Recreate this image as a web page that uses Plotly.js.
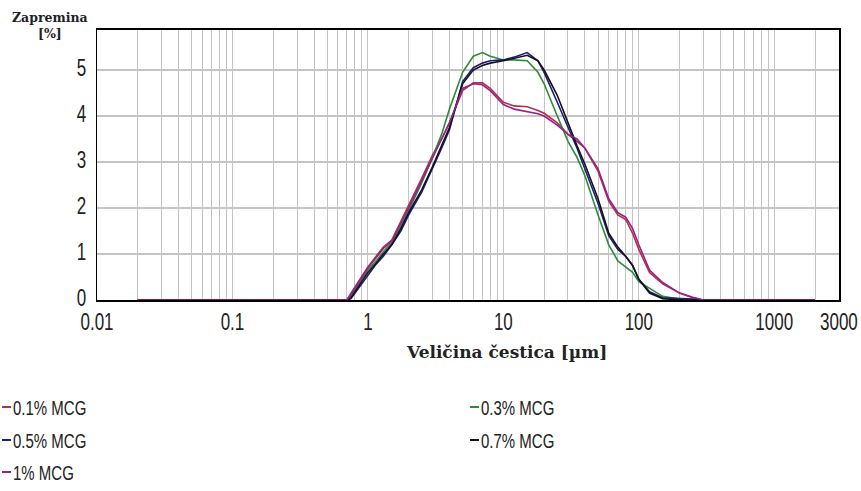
<!DOCTYPE html>
<html>
<head>
<meta charset="utf-8">
<script src="https://cdn.plot.ly/plotly-3.0.1.min.js"></script>
<style>html,body{margin:0;padding:0;background:#fff;}#chart{width:861px;height:491px;}</style>
</head>
<body>
<div id="chart"></div>
<script>
// Particle size (µm)
const sizes = [0.02, 0.7, 0.75, 0.85, 1, 1.15, 1.3, 1.5, 1.75, 2, 2.5, 3, 3.5, 4, 5, 6, 7, 8, 10, 12, 15, 18, 20, 25, 30, 35, 40, 50, 60, 70, 80, 90, 100, 120, 150, 200, 250, 300, 2000];
// Volume (%)
const mcg01 = [0, 0, 0.15, 0.4, 0.72, 0.95, 1.15, 1.3, 1.7, 2.05, 2.65, 3.15, 3.5, 3.85, 4.55, 4.72, 4.72, 4.6, 4.3, 4.22, 4.2, 4.12, 4.06, 3.85, 3.6, 3.45, 3.3, 2.8, 2.15, 1.85, 1.75, 1.45, 1.1, 0.6, 0.35, 0.15, 0.05, 0, 0];
const mcg03 = [0, 0, 0.1, 0.35, 0.65, 0.85, 1.05, 1.25, 1.6, 1.95, 2.55, 3.1, 3.6, 4.15, 4.95, 5.3, 5.38, 5.3, 5.22, 5.22, 5.2, 4.95, 4.7, 4.0, 3.45, 3.1, 2.7, 1.85, 1.2, 0.85, 0.72, 0.6, 0.4, 0.25, 0.08, 0.02, 0, 0, 0];
const mcg05 = [0, 0, 0.03, 0.25, 0.55, 0.78, 0.95, 1.2, 1.5, 1.85, 2.35, 2.85, 3.3, 3.7, 4.75, 5.05, 5.15, 5.2, 5.22, 5.28, 5.38, 5.2, 4.95, 4.3, 3.75, 3.3, 2.85, 2.1, 1.4, 1.1, 0.95, 0.75, 0.45, 0.18, 0.05, 0.04, 0.02, 0, 0];
const mcg07 = [0, 0, 0.05, 0.3, 0.6, 0.8, 1.0, 1.2, 1.55, 1.9, 2.4, 2.9, 3.35, 3.75, 4.7, 5.0, 5.1, 5.15, 5.2, 5.25, 5.32, 5.2, 5.0, 4.45, 3.85, 3.35, 2.95, 2.2, 1.45, 1.15, 0.95, 0.75, 0.45, 0.15, 0.03, 0, 0, 0, 0];
const mcg1 = [0, 0, 0.12, 0.38, 0.7, 0.92, 1.12, 1.28, 1.65, 2.0, 2.6, 3.1, 3.5, 3.85, 4.6, 4.7, 4.68, 4.55, 4.25, 4.15, 4.1, 4.05, 4.0, 3.8, 3.6, 3.5, 3.3, 2.85, 2.2, 1.9, 1.8, 1.55, 1.2, 0.65, 0.38, 0.15, 0.06, 0, 0];

const seriesNames = ["0.1% MCG", "0.3% MCG", "0.5% MCG", "0.7% MCG", "1% MCG"];
const seriesValues = [mcg01, mcg03, mcg05, mcg07, mcg1];
const xLabelVals = [0.01, 0.1, 1, 10, 100, 1000, 3000];
const xLabelText = ["0.01", "0.1", "1", "10", "100", "1000", "3000"];
const yTickVals = [0, 1, 2, 3, 4, 5];
const xTitle = "Veličina čestica [µm]";
const yTitle = "Zapremina<br>[%]";

// styles
const colors = ["#b1304a", "#2e8b3a", "#1c1c86", "#141414", "#96208c"];
const tickFont = "Liberation Sans, Arial, sans-serif";
const serifFont = "DejaVu Serif, Liberation Serif, serif";

// grid ticks (1..9 per decade) with labels only at the labelled values
const gridVals = [], gridText = [];
for (let e = -2; e <= 3; e++) {
  for (let k = 1; k <= 9; k++) {
    const v = +(k * Math.pow(10, e)).toPrecision(6);
    if (v > 3000) break;
    gridVals.push(v);
    const idx = xLabelVals.indexOf(v);
    gridText.push(idx >= 0 ? xLabelText[idx] : "");
  }
}

const traces = seriesNames.map((n, i) => ({
  type: "scatter", mode: "lines", name: n,
  x: sizes, y: seriesValues[i],
  line: {color: colors[i], width: 1.6},
  showlegend: false
}));

const L = 97, R = 22, T = 30, B = 191, W = 861, H = 491;
const pw = W - L - R, ph = H - T - B;
const px = x => (x - L) / pw;
const py = y => (H - B - y) / ph;

const annotations = [{
  text: yTitle, xref: "paper", yref: "paper",
  x: px(50), y: py(26), xanchor: "center", yanchor: "middle", showarrow: false,
  font: {family: serifFont, size: 12.5, color: "#222", weight: "bold"}
}, {
  text: xTitle, xref: "paper", yref: "paper",
  x: px(506), y: py(352), xanchor: "center", yanchor: "middle", showarrow: false,
  font: {family: serifFont, size: 17, color: "#222", weight: "bold"}
}];
const shapes = [];
const legendPos = [[2, 407], [470, 407], [2, 440], [470, 440], [2, 472]];
seriesNames.forEach((n, i) => {
  const [lx, ly] = legendPos[i];
  shapes.push({type: "line", xref: "paper", yref: "paper",
    x0: px(lx), x1: px(lx + 9), y0: py(ly), y1: py(ly),
    line: {color: colors[i], width: 2}});
  annotations.push({text: n, xref: "paper", yref: "paper",
    x: px(lx + 9), y: py(ly), xanchor: "left", yanchor: "middle", showarrow: false,
    font: {family: tickFont, size: 15, color: "#222"}});
});

const layout = {
  width: W, height: H,
  margin: {l: L, r: R, t: T, b: B, autoexpand: false},
  paper_bgcolor: "#fff", plot_bgcolor: "#fff",
  showlegend: false,
  xaxis: {
    type: "log", range: [-2, Math.log10(3000) + 0.0008],
    tickmode: "array", tickvals: gridVals, ticktext: gridText,
    showgrid: true, gridcolor: "#c4c4c4", gridwidth: 1,
    showline: true, linecolor: "#000", linewidth: 2, mirror: true,
    ticks: "", zeroline: false,
    tickfont: {family: tickFont, size: 17, color: "#222"}
  },
  yaxis: {
    range: [0, 5.87], tickmode: "array", tickvals: yTickVals,
    showgrid: true, gridcolor: "#c4c4c4", gridwidth: 1.5,
    showline: true, linecolor: "#000", linewidth: 1.5, mirror: true,
    ticks: "", zeroline: false, ticklabelstandoff: 6,
    tickfont: {family: tickFont, size: 17, color: "#222"}
  },
  annotations: annotations,
  shapes: shapes
};

Plotly.newPlot("chart", traces, layout, {displayModeBar: false, staticPlot: true}).then(gd => {
  // stretch tick / legend text vertically to mimic the tall, narrow face of the original
  const stretch = (els, s, dy) => els.forEach(t => {
    const b = t.getBBox();
    const cy = b.y + b.height / 2;
    const tr = t.getAttribute("transform") || "";
    t.setAttribute("transform", tr + " translate(0," + (cy + dy) + ") scale(1," + s + ") translate(0," + (-cy) + ")");
  });
  stretch(gd.querySelectorAll(".xtick text"), 1.4, 5);
  stretch(gd.querySelectorAll(".ytick text"), 1.4, -2);
  const ann = Array.from(gd.querySelectorAll(".annotation-text"));
  stretch(ann.slice(2), 1.4, 0);
});
</script>
</body>
</html>
